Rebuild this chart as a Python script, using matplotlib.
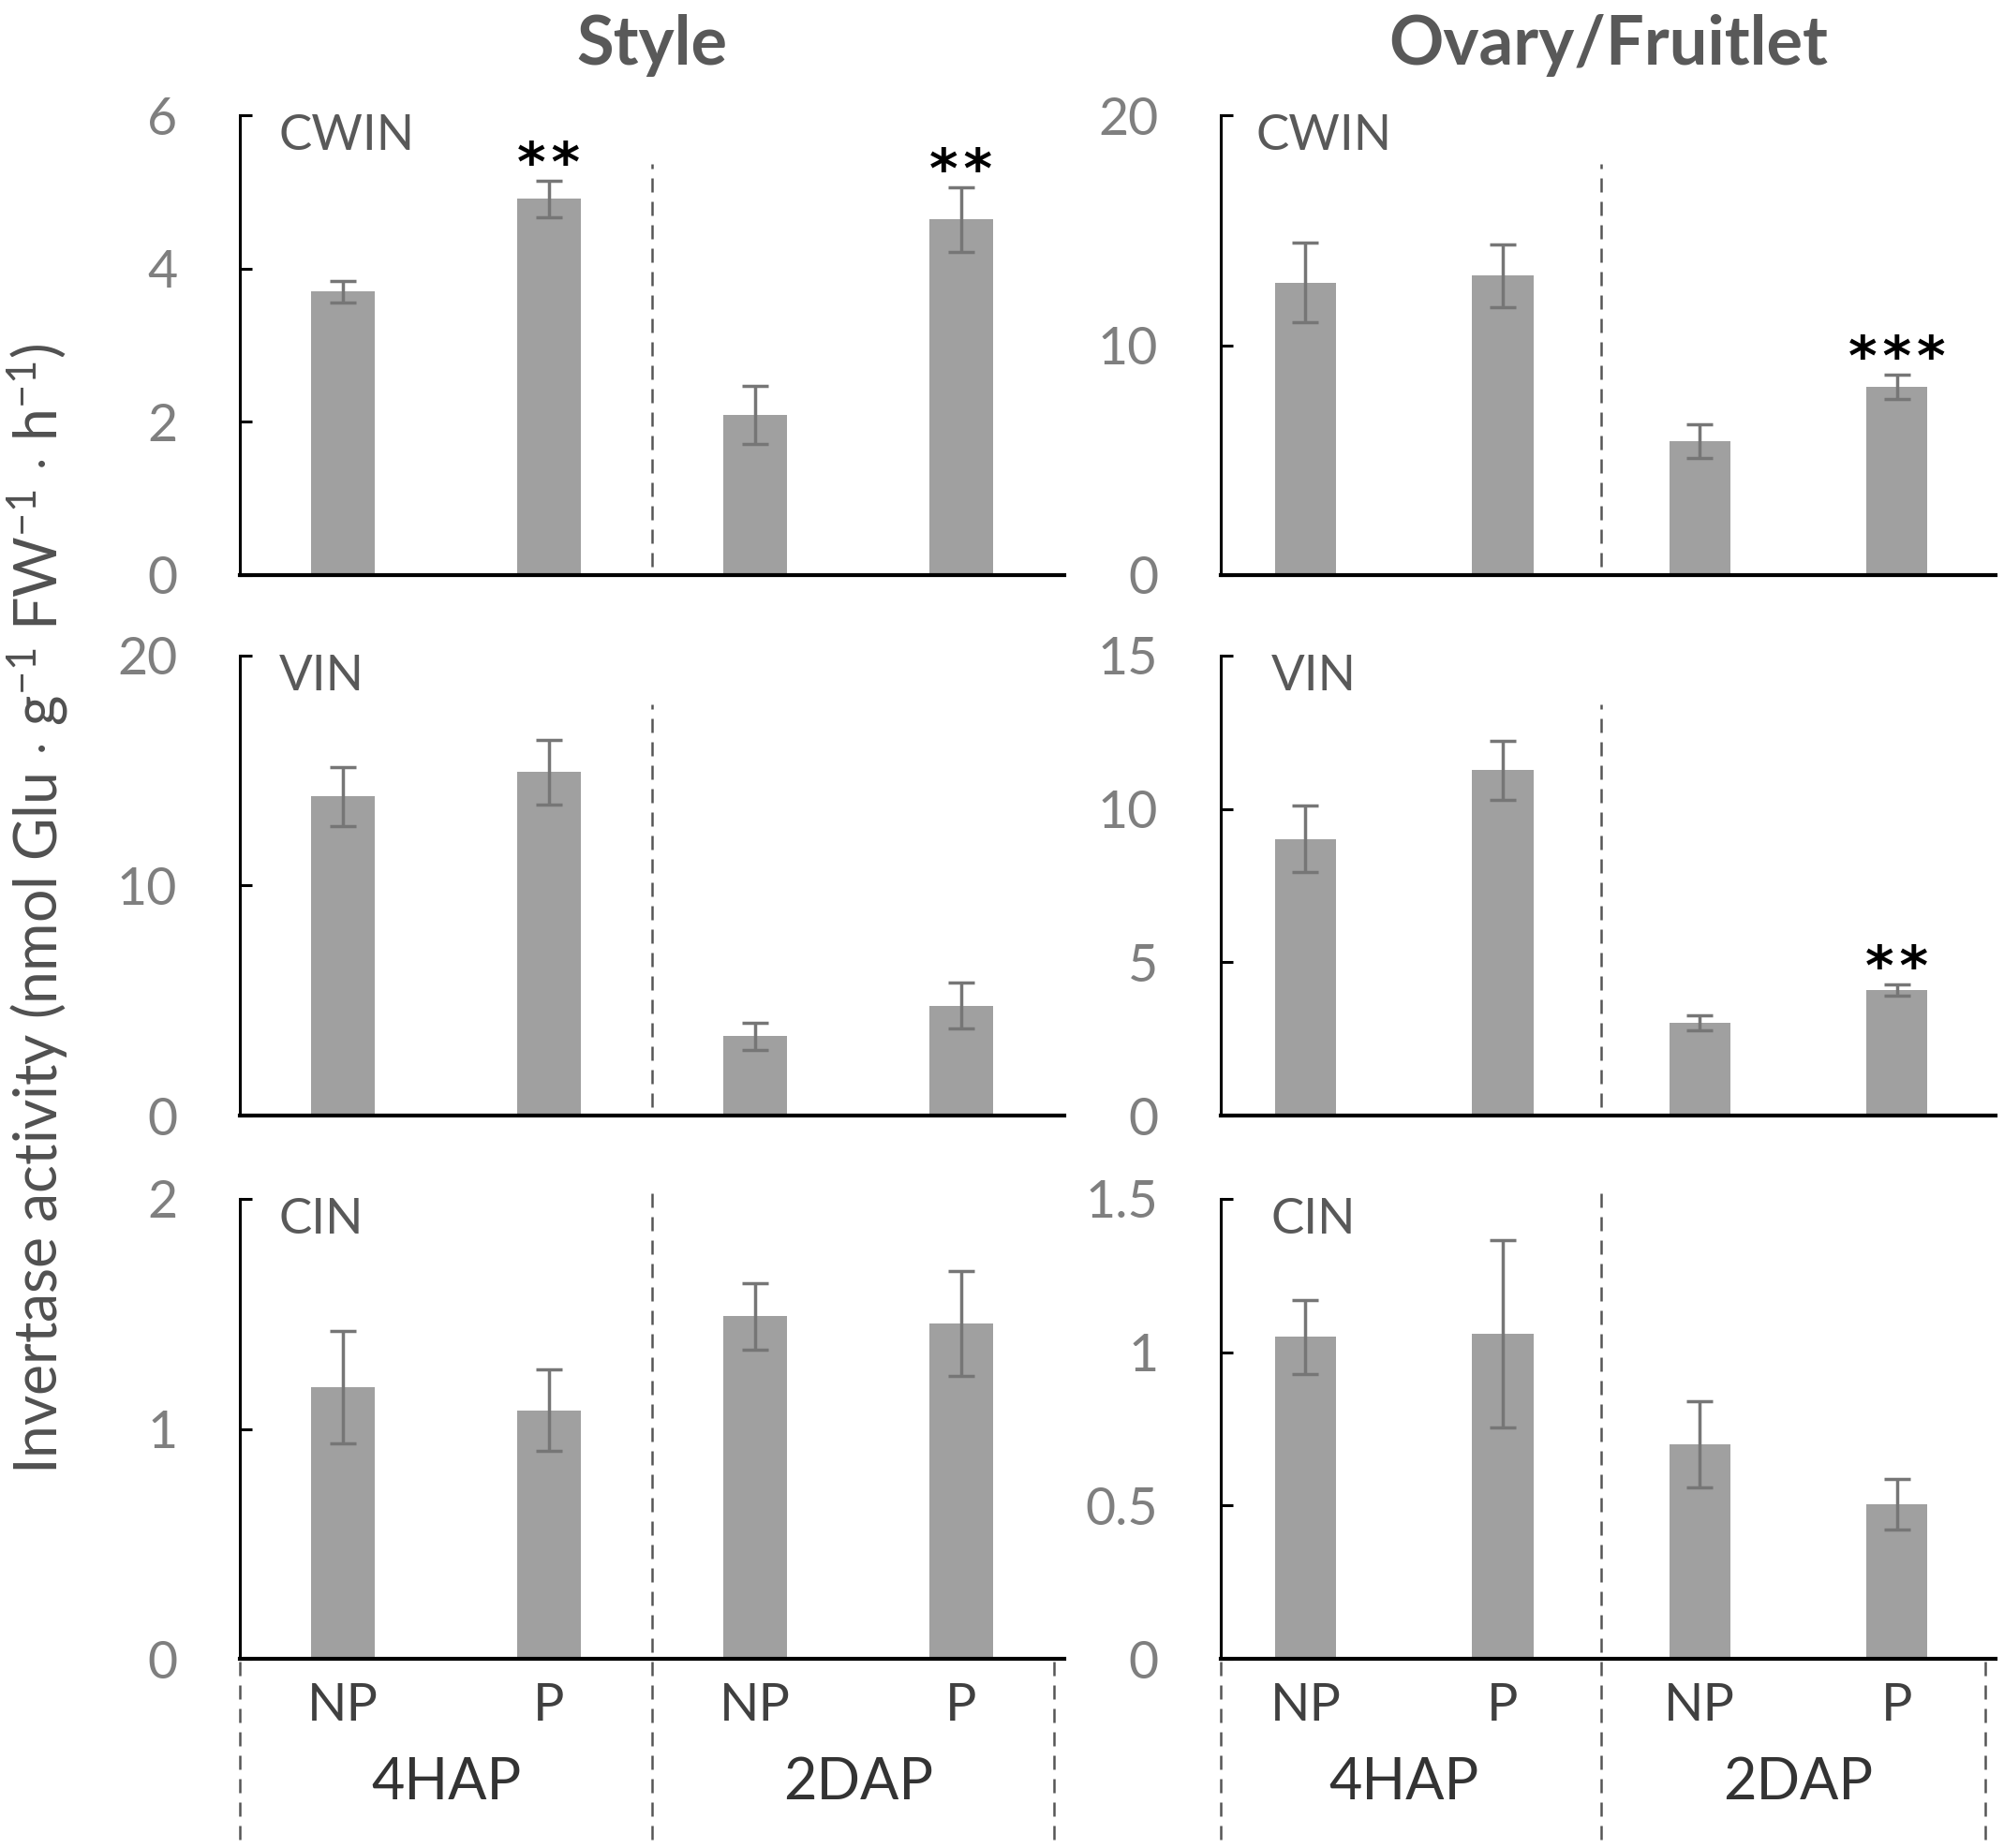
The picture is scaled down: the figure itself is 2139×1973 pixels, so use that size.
import matplotlib
matplotlib.use("Agg")
import matplotlib.pyplot as plt
from matplotlib.lines import Line2D
from matplotlib.transforms import blended_transform_factory

plt.rcParams["font.family"] = ["Lato", "DejaVu Sans"]
plt.rcParams["mathtext.fontset"] = "custom"
plt.rcParams["mathtext.rm"] = "Lato"
plt.rcParams["mathtext.it"] = "Lato:italic"

# ---- data ----
groups = ["NP", "P", "NP", "P"]
stages = ["4HAP", "2DAP"]
tissues = ["Style", "Ovary/Fruitlet"]
enzymes = ["CWIN", "VIN", "CIN"]

style_cwin = [3.70, 4.91, 2.09, 4.64]
style_cwin_err = [0.14, 0.24, 0.38, 0.42]
style_vin = [13.87, 14.94, 3.46, 4.78]
style_vin_err = [1.29, 1.40, 0.59, 1.00]
style_cin = [1.18, 1.08, 1.49, 1.46]
style_cin_err = [0.245, 0.177, 0.145, 0.228]

ovary_cwin = [12.71, 13.02, 5.83, 8.20]
ovary_cwin_err = [1.73, 1.35, 0.72, 0.53]
ovary_vin = [9.02, 11.27, 3.02, 4.09]
ovary_vin_err = [1.09, 0.96, 0.24, 0.18]
ovary_cin = [1.05, 1.06, 0.70, 0.504]
ovary_cin_err = [0.12, 0.305, 0.14, 0.083]

style_cwin_sig = ["", "**", "", "**"]
style_vin_sig = ["", "", "", ""]
style_cin_sig = ["", "", "", ""]
ovary_cwin_sig = ["", "", "", "***"]
ovary_vin_sig = ["", "", "", "**"]
ovary_cin_sig = ["", "", "", ""]

style_yticks = [[0, 2, 4, 6], [0, 10, 20], [0, 1, 2]]
ovary_yticks = [[0, 10, 20], [0, 5, 10, 15], [0, 0.5, 1, 1.5]]

BAR_C = "#a0a0a0"
ERR_C = "#767676"
TICK_C = "#7f7f7f"
LAB_C = "#595959"
DASH_C = "#555555"

W, H = 2139, 1973
fig = plt.figure(figsize=(W / 100, H / 100), dpi=100)

# pixel boxes of each column / row (left, width) and (top, height)
col_x = [(256, 880), (1303, 827)]
col_xlim = [(-0.5, 3.5), (-0.43, 3.5)]
row_y = [(123, 491), (700, 491), (1280, 491)]

panels = [
    [(style_cwin, style_cwin_err, style_cwin_sig),
     (style_vin, style_vin_err, style_vin_sig),
     (style_cin, style_cin_err, style_cin_sig)],
    [(ovary_cwin, ovary_cwin_err, ovary_cwin_sig),
     (ovary_vin, ovary_vin_err, ovary_vin_sig),
     (ovary_cin, ovary_cin_err, ovary_cin_sig)],
]
yticks_all = [style_yticks, ovary_yticks]
label_dx = [[0.047, 0.047, 0.047], [0.045, 0.065, 0.065]]

for c in range(2):
    x0, w = col_x[c]
    for r in range(3):
        y0, h = row_y[r]
        ax = fig.add_axes([x0 / W, 1 - (y0 + h) / H, w / W, h / H])
        vals, errs, sig = panels[c][r]
        ticks = yticks_all[c][r]
        xs = list(range(len(groups)))
        ax.bar(xs, vals, width=0.31, color=BAR_C, zorder=2)
        ax.errorbar(xs, vals, yerr=errs, fmt="none", ecolor=ERR_C,
                    elinewidth=2.5, capsize=10, capthick=2.5, zorder=3)
        ax.set_xlim(*col_xlim[c])
        ax.set_ylim(ticks[0], ticks[-1])
        ax.set_yticks(ticks)
        ax.set_yticklabels([f"{t:g}" for t in ticks])
        ax.set_xticks([])
        for s in ["top", "right"]:
            ax.spines[s].set_visible(False)
        ax.spines["left"].set_linewidth(2.2)
        ax.spines["bottom"].set_linewidth(3)
        ax.tick_params(axis="y", direction="in", length=9, width=2.2,
                       pad=48, labelsize=40, labelcolor=TICK_C)

        for xi, s in enumerate(sig):
            if s:
                ax.annotate("\u200a".join(s), (xi, vals[xi] + errs[xi]),
                            xytext=(0, 0), textcoords="offset points",
                            ha="center", va="baseline", fontsize=42,
                            fontweight="bold", color="black",
                            family="DejaVu Sans")

        ax.text(label_dx[c][r], 0.955, enzymes[r], transform=ax.transAxes,
                ha="left", va="center", fontsize=38, color=LAB_C)

        tr = blended_transform_factory(ax.transData, ax.transAxes)
        dash = dict(color=DASH_C, lw=1.8, ls=(0, (6, 4)), clip_on=False)
        if r < 2:
            ax.add_line(Line2D([1.5, 1.5], [0.018, 0.895], transform=tr, **dash))
        else:
            ax.add_line(Line2D([1.5, 1.5], [-0.393, 1.017], transform=tr, **dash))
            ax.add_line(Line2D([0, 0], [-0.393, 0.0], transform=ax.transAxes, **dash))
            ax.add_line(Line2D([3.45, 3.45], [-0.393, 0.0], transform=tr, **dash))
            for xi, g in enumerate(groups):
                ax.text(xi, -0.102, g, transform=tr, ha="center", va="center",
                        fontsize=40, color="#404040")
            for si, st in enumerate(stages):
                ax.text(0.5 + 2 * si, -0.269, st, transform=tr, ha="center",
                        va="center", fontsize=44, color="#333333")

    fig.text((x0 + w / 2) / W, 1 - 48 / H, tissues[c], ha="center",
             va="center", fontsize=52, fontweight="bold", color=LAB_C)

fig.text(40 / W, 1 - 970 / H,
         r"Invertase activity (nmol Glu $\cdot$ g$^{-1}$ FW$^{-1}$ $\cdot$ h$^{-1}$)",
         rotation=90, ha="center", va="center", fontsize=45, color="#505050")

fig.savefig("out.png", dpi=100)
